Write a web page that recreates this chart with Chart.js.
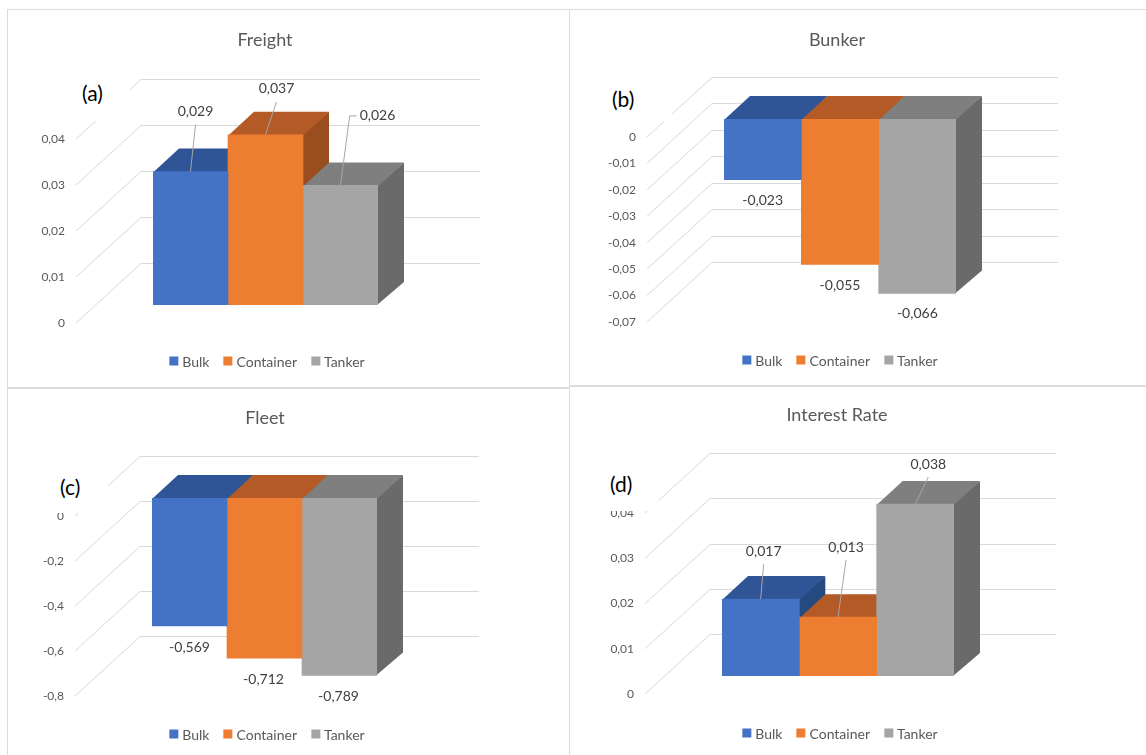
<!DOCTYPE html>
<html>
<head>
<meta charset="utf-8">
<script src="https://cdn.jsdelivr.net/npm/chart.js@4.4.1/dist/chart.umd.min.js"></script>
<style>
    body { margin: 0; background: #fff; font-family: Lato, sans-serif; }
    #page { position: relative; width: 1146px; height: 755px; overflow: hidden; background: #fff; }
    .frame { position: absolute; border: 1px solid #dcdcdc; box-sizing: border-box; pointer-events: none; }
    canvas { position: absolute; }
    .title { position: absolute; font-size: 18px; color: #595959; transform: translate(-50%, -50%); white-space: nowrap; }
    .legend { position: absolute; display: flex; align-items: center; transform: translate(-50%, -50%); white-space: nowrap; font-size: 14px; color: #595959; }
    .legend span.box { display: inline-block; width: 9px; height: 9px; margin-right: 4px; }
    .legend span.item { display: flex; align-items: center; margin: 0 7px; }
    .tag { position: absolute; background: #fff; font-size: 21px; line-height: 24px; color: #000; box-sizing: border-box; }
</style>
</head>
<body>
<div id="page"></div>
<script>

// series
const seriesNames = ['Bulk', 'Container', 'Tanker'];

// values per panel
const freightValues = [0.029, 0.037, 0.026];
const bunkerValues = [-0.023, -0.055, -0.066];
const fleetValues = [-0.569, -0.712, -0.789];
const interestValues = [0.017, 0.013, 0.038];

// value axes: min, max, step
const freightAxis = [0, 0.04, 0.01];
const bunkerAxis = [-0.07, 0, 0.01];
const fleetAxis = [-0.8, 0, 0.2];
const interestAxis = [0, 0.04, 0.01];

// decimals shown in the data labels
const freightDecimals = 3;
const bunkerDecimals = 3;
const fleetDecimals = 3;
const interestDecimals = 3;

const frontColors = ['#4472C4', '#ED7D31', '#A5A5A5'];
const topColors = ['#2F5597', '#B45A26', '#7F7F7F'];
const sideColors = ['#244A80', '#9A4D1F', '#6A6A6A'];

const AXIS_W = 135;
const DEPTH_X = 26;
const DEPTH_Y = 23;

const panels = [
    {
        title: 'Freight', tag: '(a)', values: freightValues, axis: freightAxis, decimals: freightDecimals,
        rect: { x: 7, y: 10, w: 562, h: 378 },
        plot: { left: 153, right: 378, top: 121, bottom: 305 },
        frame: { x: 7, y: 9, w: 563, h: 380 },
        titlePos: [265, 39], legendPos: [267, 361],
        tagBox: { x: 80, y: 76, w: 50, h: 45, pl: 2, pt: 5 },
        labels: [[5, -60, 'line'], [11, -46, 'line'], [37, -70, 'elbow']]
    },
    {
        title: 'Bunker', tag: '(b)', values: bunkerValues, axis: bunkerAxis, decimals: bunkerDecimals,
        rect: { x: 570, y: 10, w: 576, h: 376 },
        plot: { left: 724, right: 956, top: 119, bottom: 304 },
        frame: { x: 569, y: 9, w: 590, h: 378 },
        titlePos: [837, 39], legendPos: [840, 360],
        tagBox: { x: 608, y: 82, w: 64, h: 39, pl: 4, pt: 5 },
        labels: [[0, 21], [0, 21], [0, 20]]
    },
    {
        title: 'Fleet', tag: '(c)', values: fleetValues, axis: fleetAxis, decimals: fleetDecimals,
        rect: { x: 7, y: 388, w: 562, h: 367 },
        plot: { left: 152, right: 377, top: 498, bottom: 678 },
        frame: { x: 7, y: 387, w: 563, h: 380 },
        titlePos: [265, 417], legendPos: [267, 734],
        tagBox: { x: 55, y: 466, w: 53, h: 47, pl: 5, pt: 9 },
        labels: [[0, 21], [-1, 21], [-1, 21]]
    },
    {
        title: 'Interest Rate', tag: '(d)', values: interestValues, axis: interestAxis, decimals: interestDecimals,
        rect: { x: 570, y: 386, w: 576, h: 369 },
        plot: { left: 722, right: 954, top: 495, bottom: 676 },
        frame: { x: 569, y: 385, w: 590, h: 380 },
        titlePos: [837, 414], legendPos: [840, 733],
        tagBox: { x: 605, y: 466, w: 54, h: 45, pl: 5, pt: 6 },
        labels: [[3, -48, 'line'], [8, -70, 'line'], [13, -40, 'line']]
    }
];

function commaNum(v, digits) {
    return Number(v.toFixed(digits)).toString().replace('.', ',');
}

// walls, grid lines, top and side faces of the columns
const depthPlugin = {
    id: 'depth3d',
    beforeDatasetsDraw(chart) {
        const { ctx, chartArea: area } = chart;
        const yScale = chart.scales.y;

        ctx.save();
        ctx.strokeStyle = '#d9d9d9';
        ctx.lineWidth = 1;

        yScale.ticks.forEach(t => {
            const py = yScale.getPixelForValue(t.value);
            const by = Math.round(py - 42) + 0.5;
            ctx.beginPath();
            ctx.moveTo(area.left - 77, py + 18);
            ctx.lineTo(area.left - 12, by);
            ctx.lineTo(area.right + 102, by);
            ctx.stroke();
        });

        chart.data.datasets.forEach((ds, i) => {
            const bar = chart.getDatasetMeta(i).data[0];
            const left = bar.x - bar.width / 2;
            const right = bar.x + bar.width / 2;
            const top = Math.min(bar.y, bar.base);
            const bottom = Math.max(bar.y, bar.base);

            ctx.fillStyle = sideColors[i];
            ctx.beginPath();
            ctx.moveTo(right - 1, top);
            ctx.lineTo(right + DEPTH_X, top - DEPTH_Y);
            ctx.lineTo(right + DEPTH_X, bottom - DEPTH_Y);
            ctx.lineTo(right - 1, bottom);
            ctx.closePath();
            ctx.fill();

            ctx.fillStyle = topColors[i];
            ctx.beginPath();
            ctx.moveTo(left, top + 1);
            ctx.lineTo(left + DEPTH_X, top - DEPTH_Y);
            ctx.lineTo(right + DEPTH_X, top - DEPTH_Y);
            ctx.lineTo(right, top + 1);
            ctx.closePath();
            ctx.fill();
        });

        ctx.restore();
    },
    afterDatasetsDraw(chart, args, opts) {
        const { ctx } = chart;
        ctx.save();
        ctx.font = '14px Lato';
        ctx.textAlign = 'center';
        ctx.textBaseline = 'middle';

        chart.data.datasets.forEach((ds, i) => {
            const bar = chart.getDatasetMeta(i).data[0];
            const value = ds.data[0];
            const spec = opts.labels[i];
            const text = commaNum(value, opts.decimals);
            const top = Math.min(bar.y, bar.base);
            const bottom = Math.max(bar.y, bar.base);
            const lx = bar.x + spec[0];
            const ly = (value >= 0 ? top : bottom) + spec[1];

            if (spec[2]) {
                ctx.strokeStyle = '#a6a6a6';
                ctx.lineWidth = 1;
                ctx.beginPath();
                if (spec[2] === 'elbow') {
                    const edge = lx - ctx.measureText(text).width / 2;
                    ctx.moveTo(edge - 3, ly + 0.5);
                    ctx.lineTo(edge - 10, ly + 0.5);
                } else {
                    ctx.moveTo(lx, ly + 13);
                }
                ctx.lineTo(bar.x, top);
                ctx.stroke();
            }

            ctx.fillStyle = '#404040';
            ctx.fillText(text, lx, ly);
        });

        ctx.restore();
    }
};

const page = document.getElementById('page');

panels.forEach(p => {

    const canvas = document.createElement('canvas');
    canvas.width = p.rect.w;
    canvas.height = p.rect.h;
    canvas.style.left = p.rect.x + 'px';
    canvas.style.top = p.rect.y + 'px';
    page.appendChild(canvas);

    const frame = document.createElement('div');
    frame.className = 'frame';
    frame.style.left = p.frame.x + 'px';
    frame.style.top = p.frame.y + 'px';
    frame.style.width = p.frame.w + 'px';
    frame.style.height = p.frame.h + 'px';
    page.appendChild(frame);

    const title = document.createElement('div');
    title.className = 'title';
    title.innerText = p.title;
    title.style.left = p.titlePos[0] + 'px';
    title.style.top = p.titlePos[1] + 'px';
    page.appendChild(title);

    const legend = document.createElement('div');
    legend.className = 'legend';
    legend.style.left = p.legendPos[0] + 'px';
    legend.style.top = p.legendPos[1] + 'px';
    seriesNames.forEach((name, i) => {
        const item = document.createElement('span');
        item.className = 'item';
        item.innerHTML = '<span class="box" style="background:' + frontColors[i] + '"></span>' + name;
        legend.appendChild(item);
    });
    page.appendChild(legend);

    const padding = {
        left: p.plot.left - p.rect.x - AXIS_W,
        right: p.rect.x + p.rect.w - p.plot.right,
        top: p.plot.top - p.rect.y,
        bottom: p.rect.y + p.rect.h - p.plot.bottom
    };

    new Chart(canvas, {

        type: 'bar',

        data: {
            labels: [p.title],
            datasets: seriesNames.map((name, i) => ({
                label: name,
                data: [p.values[i]],
                backgroundColor: frontColors[i],
                borderWidth: 0
            }))
        },

        options: {
            responsive: false,
            animation: false,
            layout: { padding: padding },
            datasets: {
                bar: { categoryPercentage: 1, barPercentage: 1 }
            },
            plugins: {
                legend: { display: false },
                title: { display: false },
                tooltip: { enabled: false },
                depth3d: { labels: p.labels, decimals: p.decimals }
            },
            scales: {
                x: { display: false },
                y: {
                    min: p.axis[0],
                    max: p.axis[1],
                    afterFit: (scale) => {
                        scale.width = AXIS_W;
                        scale.paddingTop = 0;
                        scale.paddingBottom = 0;
                    },
                    grid: { display: false, drawTicks: false },
                    border: { display: false },
                    ticks: {
                        stepSize: p.axis[2],
                        padding: 88,
                        labelOffset: 18,
                        color: '#595959',
                        font: { family: 'Lato', size: 12 },
                        callback: (v) => commaNum(v, 4)
                    }
                }
            }
        },

        plugins: [depthPlugin]

    });

    const tag = document.createElement('div');
    tag.className = 'tag';
    tag.innerText = p.tag;
    tag.style.left = p.tagBox.x + 'px';
    tag.style.top = p.tagBox.y + 'px';
    tag.style.width = p.tagBox.w + 'px';
    tag.style.height = p.tagBox.h + 'px';
    tag.style.paddingLeft = p.tagBox.pl + 'px';
    tag.style.paddingTop = p.tagBox.pt + 'px';
    page.appendChild(tag);

});

</script>
</body>
</html>
